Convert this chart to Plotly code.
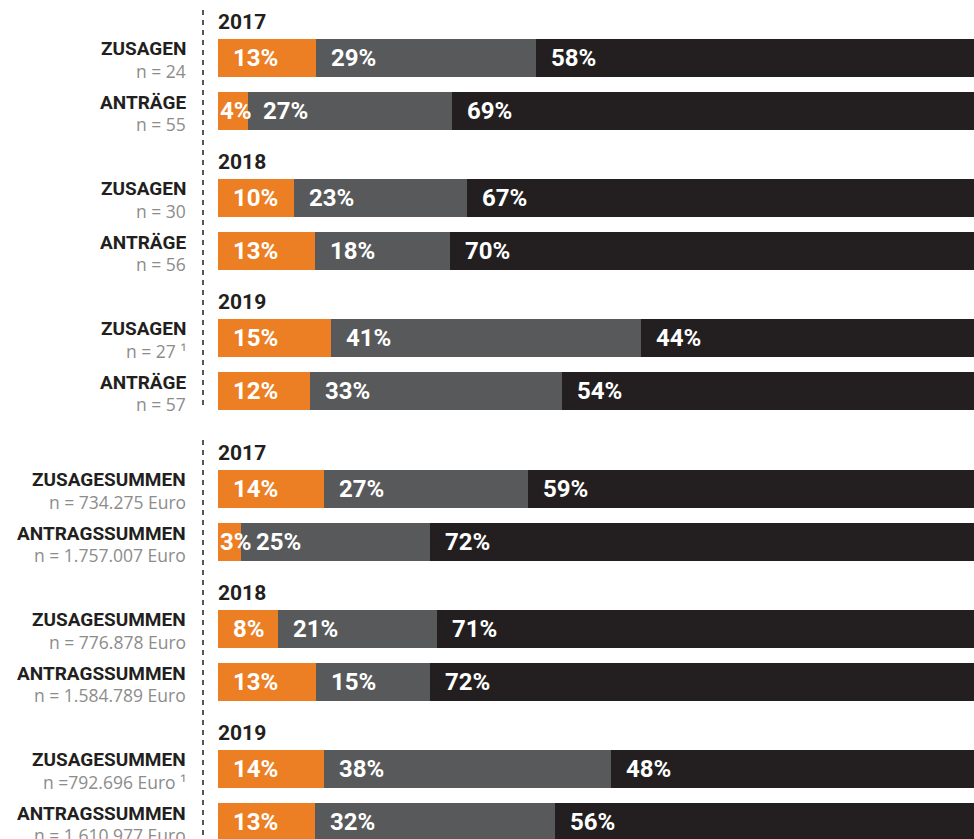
import plotly.graph_objects as go

# shares in percent: positive / neutral / negative (label values)
years = ['2017', '2018', '2019']

labels = ['ZUSAGEN', 'ANTRÄGE', 'ZUSAGEN', 'ANTRÄGE', 'ZUSAGEN', 'ANTRÄGE',
          'ZUSAGESUMMEN', 'ANTRAGSSUMMEN', 'ZUSAGESUMMEN', 'ANTRAGSSUMMEN',
          'ZUSAGESUMMEN', 'ANTRAGSSUMMEN']
n_text = ['n = 24', 'n = 55', 'n = 30', 'n = 56', 'n = 27 ¹', 'n = 57',
          'n = 734.275 Euro', 'n = 1.757.007 Euro', 'n = 776.878 Euro',
          'n = 1.584.789 Euro', 'n =792.696 Euro ¹', 'n = 1.610.977 Euro']
orange_vals = [13, 4, 10, 13, 15, 12, 14, 3, 8, 13, 14, 13]
grey_vals = [29, 27, 23, 18, 41, 33, 27, 25, 21, 15, 38, 32]
black_vals = [58, 69, 67, 70, 44, 54, 59, 72, 71, 72, 48, 56]

ORANGE = '#ec7f24'
GREY = '#58595b'
BLACK = '#231f20'
BOLD = 'Roboto, Liberation Sans, sans-serif'
REG = 'Open Sans, Liberation Sans, sans-serif'

# y units = page pixels
W, H = 974, 839
first = 57.5
pair_step = 53.5
year_step = 140
section_extra = 11
centers = []
for s in range(2):
    for yi in range(3):
        base = first + s * (3 * year_step + section_extra) + yi * year_step
        centers += [base, base + pair_step]

# normalize so each bar fills the row
rows = list(zip(orange_vals, grey_vals, black_vals))
norm = [[v * 100 / sum(r) for v in r] for r in rows]

fig = go.Figure()
for i, (name, col) in enumerate([('positiv', ORANGE), ('neutral', GREY), ('negativ', BLACK)]):
    fig.add_trace(go.Bar(
        x=[r[i] for r in norm], y=centers, orientation='h', width=38,
        marker=dict(color=col, line=dict(width=0)), name=name, hoverinfo='skip'))

annotations = []
for k, c in enumerate(centers):
    start = 0
    for i, v in enumerate(rows[k]):
        annotations.append(dict(
            x=start, y=c, xref='x', yref='y', text=f'{v}%', showarrow=False,
            xanchor='left', yanchor='middle', xshift=0 if v < 5 else 13,
            font=dict(family=BOLD, size=24, color='white', weight='bold')))
        start += norm[k][i]
    annotations.append(dict(
        x=0, y=c - 9, xref='paper', yref='y', text=labels[k], showarrow=False,
        xanchor='right', yanchor='middle', xshift=-30,
        font=dict(family=BOLD, size=19, color=BLACK, weight='bold')))
    annotations.append(dict(
        x=0, y=c + 13, xref='paper', yref='y', text=n_text[k], showarrow=False,
        xanchor='right', yanchor='middle', xshift=-30,
        font=dict(family=REG, size=17.5, color='#8c8c8c')))
    if k % 2 == 0:
        annotations.append(dict(
            x=0, y=c - 36, xref='x', yref='y', text=years[(k // 2) % 3], showarrow=False,
            xanchor='left', yanchor='middle', xshift=-2,
            font=dict(family=BOLD, size=21, color=BLACK, weight='bold')))

line_x = -15 / 756
shapes = [
    dict(type='line', xref='paper', yref='y', x0=line_x, x1=line_x, y0=10, y1=410,
         line=dict(color='#555555', width=2, dash='5px,5px')),
    dict(type='line', xref='paper', yref='y', x0=line_x, x1=line_x, y0=440, y1=H,
         line=dict(color='#555555', width=2, dash='5px,5px')),
]

fig.update_layout(
    width=W, height=H, barmode='stack', bargap=0,
    margin=dict(l=218, r=0, t=0, b=0),
    paper_bgcolor='white', plot_bgcolor='white', showlegend=False,
    xaxis=dict(range=[0, 100], visible=False, fixedrange=True),
    yaxis=dict(range=[H, 0], visible=False, fixedrange=True),
    annotations=annotations, shapes=shapes,
)

fig.write_html('out.html', config={'displayModeBar': False},
               post_script="document.body.style.margin='0';"
                           "document.body.style.overflow='hidden';")
